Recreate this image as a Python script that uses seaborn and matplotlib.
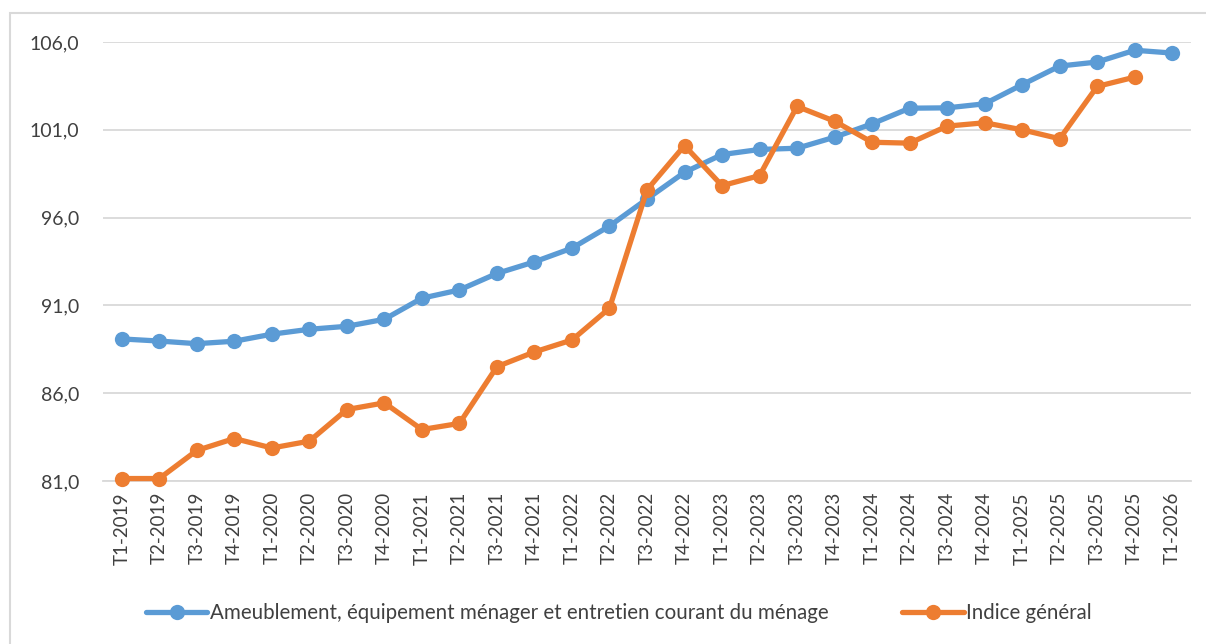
import pandas as pd
import matplotlib.pyplot as plt
import seaborn as sns
from matplotlib.patches import Rectangle

# trimestres T1-2019 .. T1-2026
periodes = [f"T{q}-{y}" for y in range(2019, 2026) for q in range(1, 5)] + ["T1-2026"]

ameublement = [89.09, 88.97, 88.82, 88.96, 89.36, 89.64, 89.81, 90.21,
               91.41, 91.88, 92.82, 93.48, 94.26, 95.52, 97.06, 98.58,
               99.59, 99.88, 99.95, 100.58, 101.34, 102.23, 102.25, 102.48,
               103.57, 104.63, 104.86, 105.53, 105.37]

indice_general = [81.14, 81.14, 82.74, 83.42, 82.88, 83.27, 85.07, 85.45,
                  83.93, 84.28, 87.51, 88.35, 89.03, 90.84, 97.58, 100.10,
                  97.82, 98.39, 102.33, 101.49, 100.29, 100.24, 101.21, 101.40,
                  101.00, 100.49, 103.47, 104.00]

label_a = "Ameublement, équipement ménager et entretien courant du ménage"
label_b = "Indice général"

df = pd.concat([
    pd.DataFrame({"periode": periodes[:len(ameublement)], "x": range(len(ameublement)),
                  "valeur": ameublement, "serie": label_a}),
    pd.DataFrame({"periode": periodes[:len(indice_general)], "x": range(len(indice_general)),
                  "valeur": indice_general, "serie": label_b}),
])

sns.set_style("white")
plt.rcParams["font.family"] = ["Lato", "DejaVu Sans"]

fig = plt.figure(figsize=(12.06, 6.44), dpi=100)
ax = fig.add_axes([103 / 1206, 1 - 481 / 644, 1088 / 1206, 439 / 644])

sns.lineplot(data=df, x="x", y="valeur", hue="serie", sort=False,
             palette={label_a: "#5B9BD5", label_b: "#ED7D31"},
             marker="o", markersize=11, markeredgewidth=0, linewidth=3.8,
             ax=ax, legend=True)
for ln in ax.lines:
    ln.set_clip_on(False)
    ln.set_zorder(3)

ax.set_xlim(-0.5, len(periodes) - 0.5)
ax.set_ylim(81, 106)
ax.set_yticks([81, 86, 91, 96, 101, 106])
ax.set_yticklabels(["81,0", "86,0", "91,0", "96,0", "101,0", "106,0"], fontsize=14, color="#404040")
ax.set_xticks(range(len(periodes)))
ax.set_xticklabels(periodes, rotation=90, fontsize=13.5, color="#404040")
ax.tick_params(axis="y", length=0, pad=17)
ax.tick_params(axis="x", length=0, pad=8)
ax.grid(axis="y", color="#d9d9d9", linewidth=1.3)
for s in ["top", "right", "left"]:
    ax.spines[s].set_visible(False)
ax.spines["bottom"].set_color("#d9d9d9")
ax.spines["bottom"].set_linewidth(1.3)
ax.set_xlabel("")
ax.set_ylabel("")
ax.set_axisbelow(True)

handles, labels = ax.get_legend_handles_labels()
ax.get_legend().remove()
fig.legend(handles, labels, loc="center", bbox_to_anchor=(0.513, 1 - 613 / 644),
           ncol=2, frameon=False, fontsize=14.8, handlelength=3.0, handletextpad=0.1,
           columnspacing=3.6, labelcolor="#404040")

# cadre du graphique
fig.patches.append(Rectangle((10 / 1206, -0.1), 1.2, 1 - 13 / 644 + 0.1,
                             transform=fig.transFigure, fill=False,
                             edgecolor="#d9d9d9", linewidth=1.5))

fig.savefig("out.png", dpi=100)
